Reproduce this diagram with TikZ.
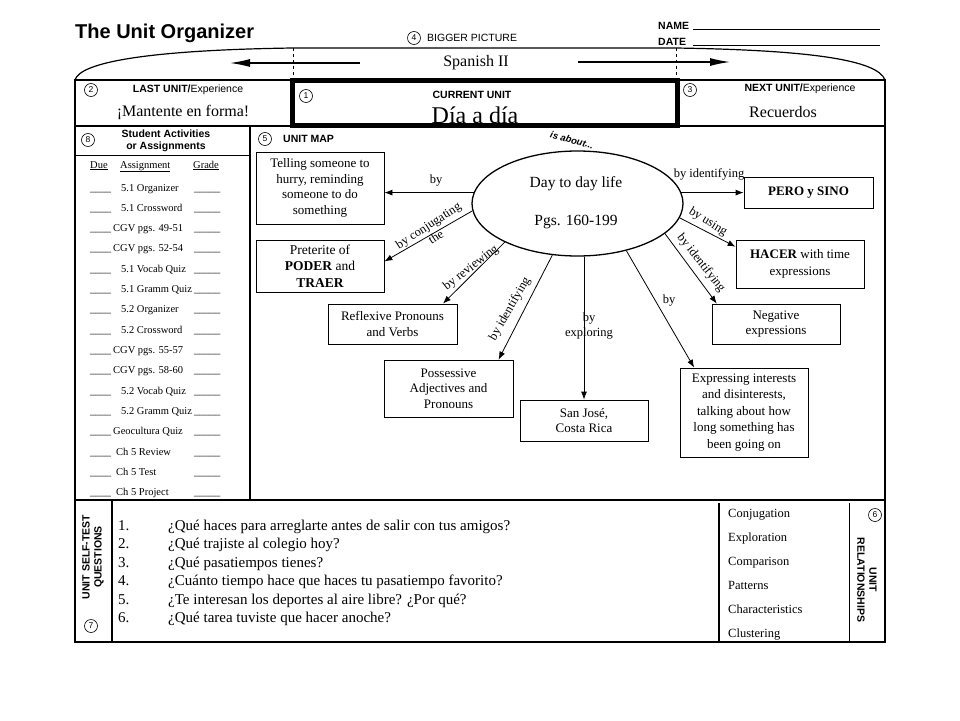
\documentclass[tikz,border=0pt]{standalone}
\usepackage{fontspec}
\setmainfont{Liberation Serif}
\setsansfont{Liberation Sans}
\usetikzlibrary{arrows.meta,shapes.geometric,calc}
\tikzset{
  box/.style={draw, line width=0.8pt, align=center, inner sep=0pt, font=\fontsize{13}{15.5}\selectfont},
  lbl/.style={inner sep=0pt, align=center, font=\fontsize{12.5}{14}\selectfont},
  arr/.style={-{Latex[length=8pt,width=6pt]}, line width=0.8pt},
  bigarr/.style={-{Latex[length=20pt,width=8pt]}, line width=1.3pt},
  num/.style={circle, draw, line width=0.6pt, inner sep=0pt, minimum size=13pt, font=\sffamily\fontsize{8.5}{9}\selectfont},
  frame/.style={line width=1.2pt},
  sflbl/.style={inner sep=0pt, font=\sffamily\fontsize{10.5}{12}\selectfont},
  sfb/.style={inner sep=0pt, align=center, font=\sffamily\bfseries\fontsize{10.5}{12}\selectfont},
  tab/.style={inner sep=0pt, anchor=base west, font=\fontsize{10.5}{12}\selectfont},
  qst/.style={inner sep=0pt, anchor=base west, font=\fontsize{15}{18}\selectfont},
  rel/.style={inner sep=0pt, anchor=base west, font=\fontsize{12.5}{14}\selectfont},
  big/.style={inner sep=0pt, font=\fontsize{16}{18}\selectfont}
}
\begin{document}
\begin{tikzpicture}[x=1pt,y=-1pt]
\useasboundingbox (0,0) rectangle (960,720);
\fill[white] (0,0) rectangle (960,720);

% header
\node[anchor=west, inner sep=0pt, font=\sffamily\bfseries\fontsize{20}{24}\selectfont] (title) at (75,33) {The Unit Organizer};
\node[num] (n4) at (414,38) {4};
\node[sflbl, anchor=west] (bp) at (427,38) {BIGGER PICTURE};
\node[sfb, anchor=west] (name) at (658,26) {NAME};
\node[sfb, anchor=west] (date) at (658,42) {DATE};
\draw[line width=0.6pt] (693,29) -- (880,29);
\draw[line width=0.6pt] (693,45) -- (880,45);

% bigger picture arc
\draw[frame] (75,80) .. controls (80,62) and (150,50) .. (293,48) -- (675,48) .. controls (810,50) and (878,60) .. (885,80);
\draw[dashed, line width=0.6pt] (293,48) -- (293,80);
\draw[dashed, line width=0.6pt] (676,48) -- (676,80);
\node[big] (sp) at (476,63) {Spanish II};
\coordinate (la1) at (360,63); \coordinate (la2) at (230,63);
\coordinate (ra1) at (578,62); \coordinate (ra2) at (730,62);
\draw[bigarr] (la1) -- (la2);
\draw[bigarr] (ra1) -- (ra2);

% frame
\draw[frame] (75,80) rectangle (885,642);
\draw[frame] (75,126) -- (885,126);
\draw[frame] (75,500) -- (885,500);
\draw[frame] (250,126) -- (250,500);
\draw[line width=0.9pt] (75,155) -- (250,155);
\draw[frame] (112,500) -- (112,642);
\draw[frame] (719,503) -- (719,642);
\draw[line width=0.9pt] (849,503) -- (849,642);
\draw[line width=5pt] (292.5,80.5) rectangle (677.5,125.5);

% row 1
\node[num] (n2) at (91,90) {2};
\node[sflbl] (last) at (188,90) {\textbf{LAST UNIT/}Experience};
\node[big] (lastu) at (183,112) {¡Mantente en forma!};
\node[num] (n1) at (306,96) {1};
\node[sfb] (cur) at (472,95) {CURRENT UNIT};
\node[inner sep=0pt, font=\fontsize{24}{28}\selectfont] (curu) at (475,115) {Día a día};
\node[num] (n3) at (690,90) {3};
\node[sflbl] (next) at (800,89) {\textbf{NEXT UNIT/}Experience};
\node[big] (nextu) at (783,112) {Recuerdos};

% left panel
\node[num] (n8) at (88,140) {8};
\node[sfb, font=\sffamily\bfseries\fontsize{10.5}{12.5}\selectfont] (sa) at (166,141) {Student Activities\\or Assignments};
\node[tab] (due) at (90,168) {\underline{Due}};
\node[tab] (asg) at (120,168) {\underline{Assignment}};
\node[tab] (grd) at (193,168) {\underline{Grade}};
\foreach \xx/\t [count=\i from 0] in {121/5.1 Organizer, 121/5.1 Crossword, 113/CGV pgs. 49-51, 113/CGV pgs. 52-54, 121/5.1 Vocab Quiz, 121/5.1 Gramm Quiz, 121/5.2 Organizer, 121/5.2 Crossword, 113/CGV pgs. 55-57, 113/CGV pgs. 58-60, 121/5.2 Vocab Quiz, 121/5.2 Gramm Quiz, 113/Geocultura Quiz, 116/Ch 5 Review, 116/Ch 5 Test, 116/Ch 5 Project} {
  \node[tab] (bl\i) at (90,{191+20.33*\i}) {\_\_\_\_};
  \node[tab] (tx\i) at (\xx,{191+20.33*\i}) {\t};
  \node[tab] (gr\i) at (194,{191+20.33*\i}) {\_\_\_\_\_};
}

% unit map
\node[num] (n5) at (265,139) {5};
\node[sfb, anchor=west] (um) at (283,139) {UNIT MAP};
\node[draw, ellipse, line width=1.3pt, minimum width=211pt, minimum height=105pt, inner sep=0pt] (ell) at (577.5,203.5) {};
\node[inner sep=0pt, font=\fontsize{15.5}{18}\selectfont] (day) at (576,184) {Day to day life};
\node[inner sep=0pt, font=\fontsize{15.5}{18}\selectfont] (pgs) at (576,222) {Pgs. 160-199};
\node[inner sep=0pt, rotate=-15, font=\sffamily\bfseries\itshape\fontsize{9.5}{11}\selectfont] (isab) at (572,140) {is about...};

\node[box, minimum width=128pt, minimum height=72pt] (tell) at (320,188) {Telling someone to\\hurry, reminding\\someone to do\\something};
\node[box, minimum width=128pt, minimum height=52pt, font=\fontsize{13.5}{16.5}\selectfont] (pret) at (320,266) {Preterite of\\\textbf{PODER} and\\\textbf{TRAER}};
\node[box, minimum width=129pt, minimum height=40pt] (refl) at (392.5,324) {Reflexive Pronouns\\and Verbs};
\node[box, minimum width=129pt, minimum height=57pt] (poss) at (448.5,388.5) {Possessive\\Adjectives and\\Pronouns};
\node[box, minimum width=128pt, minimum height=41pt] (sj) at (584,420.5) {San José,\\Costa Rica};
\node[box, minimum width=128pt, minimum height=89pt, font=\fontsize{13}{16.5}\selectfont] (expr) at (744,412.5) {Expressing interests\\and disinterests,\\talking about how\\long something has\\been going on};
\node[box, minimum width=128pt, minimum height=40pt] (neg) at (776,324) {Negative\\expressions};
\node[box, minimum width=128pt, minimum height=48pt, font=\fontsize{13}{16.5}\selectfont] (hacer) at (800,264) {\textbf{HACER} with time\\expressions};
\node[box, minimum width=129pt, minimum height=31pt] (pero) at (808.5,192.5) {\textbf{PERO y SINO}};

\draw[arr] (ell.174) -- (ell.174 -| tell.east);
\draw[arr] (ell.184) -- (pret.4);
\draw[arr] (ell.208) -- (refl.22);
\draw[arr] (ell.244) -- (poss.30);
\draw[arr] (sj.north |- ell.south) -- (sj.north);
\draw[arr] (ell.316) -- (expr.138);
\draw[arr] (ell.341) -- (neg.161);
\draw[arr] (ell.352) -- (hacer.165);
\draw[arr] (ell.6) -- (ell.6 -| pero.west);

\node[lbl] (l1) at (436,181) {by};
\node[lbl, rotate=33] (l2) at (432,231) {by conjugating\\the};
\node[lbl, rotate=38] (l3) at (471,268) {by reviewing};
\node[lbl, rotate=60] (l4) at (510,309) {by identifying};
\node[lbl, font=\fontsize{12.5}{15}\selectfont] (l5) at (589,326) {by\\exploring};
\node[lbl] (l6) at (669,301) {by};
\node[lbl, rotate=-52] (l7) at (701,263) {by identifying};
\node[lbl, rotate=-32] (l8) at (708,222) {by using};
\node[lbl] (l9) at (709,174) {by identifying};

% bottom: self-test questions
\node[sfb, rotate=90] (ust) at (93,557) {UNIT SELF-TEST\\QUESTIONS};
\node[num] (n7) at (91,626) {7};
\foreach \q [count=\i] in {¿Qué haces para arreglarte antes de salir con tus amigos?, ¿Qué trajiste al colegio hoy?, ¿Qué pasatiempos tienes?, ¿Cuánto tiempo hace que haces tu pasatiempo favorito?, ¿Te interesan los deportes al aire libre? ¿Por qué?, ¿Qué tarea tuviste que hacer anoche?} {
  \node[qst] (qn\i) at (118,{512+18.4*\i}) {\i.};
  \node[qst] (q\i) at (168,{512+18.4*\i}) {\q};
}

% unit relationships
\foreach \r [count=\i from 0] in {Conjugation, Exploration, Comparison, Patterns, Characteristics, Clustering} {
  \node[rel] (r\i) at (728,{517+24*\i}) {\r};
}
\node[num] (n6) at (875,515) {6};
\node[sfb, rotate=-90] (ur) at (867,580) {UNIT\\RELATIONSHIPS};
\end{tikzpicture}
\end{document}
